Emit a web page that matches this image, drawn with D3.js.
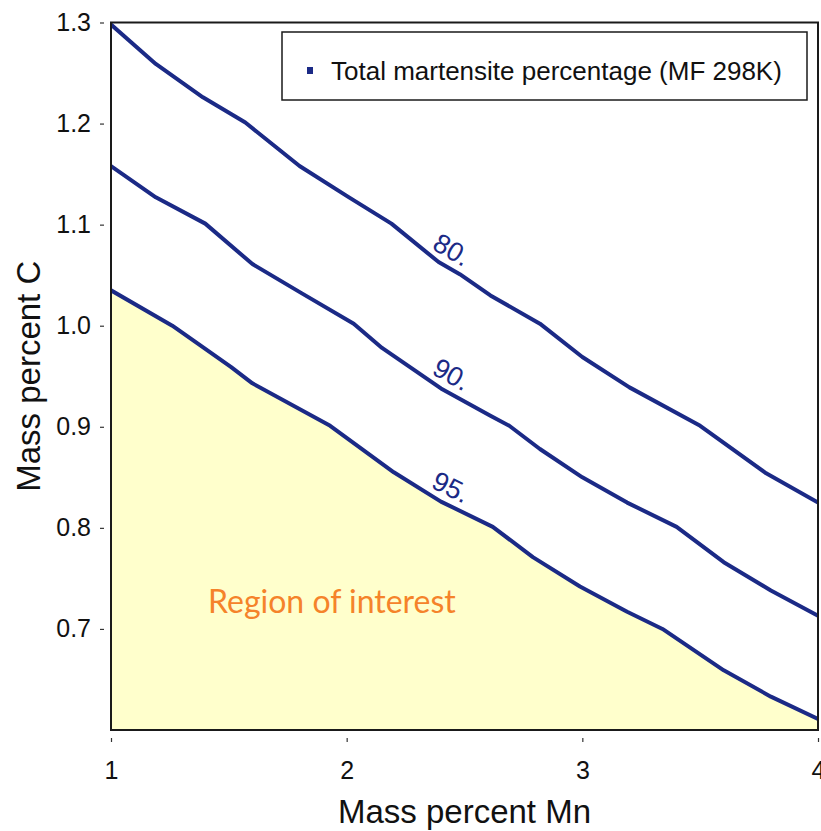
<!DOCTYPE html>
<html>
<head>
<meta charset="utf-8">
<script src="https://cdn.jsdelivr.net/npm/d3@7"></script>
<style>
  html, body { margin: 0; padding: 0; background: #ffffff; }
  svg { display: block; }
</style>
</head>
<body>
<svg id="chart" width="821" height="831"></svg>
<script>
// Contour lines of total martensite percentage over Mn / C composition
const contourLevels = ["80", "90", "95"];

const mn80 = [1.00, 1.19, 1.39, 1.57, 1.80, 2.01, 2.19, 2.39, 2.48, 2.61, 2.82, 3.00, 3.20, 3.50, 3.78, 4.00];
const c80  = [1.298, 1.259, 1.226, 1.201, 1.158, 1.127, 1.101, 1.063, 1.051, 1.030, 1.002, 0.969, 0.939, 0.901, 0.854, 0.825];

const mn90 = [1.00, 1.19, 1.40, 1.60, 1.81, 2.03, 2.15, 2.40, 2.61, 2.69, 2.82, 3.00, 3.19, 3.40, 3.60, 3.80, 4.00];
const c90  = [1.158, 1.127, 1.101, 1.061, 1.032, 1.002, 0.978, 0.938, 0.911, 0.901, 0.878, 0.850, 0.825, 0.801, 0.766, 0.738, 0.713];

const mn95 = [1.00, 1.26, 1.37, 1.51, 1.60, 1.93, 2.20, 2.40, 2.62, 2.79, 2.99, 3.19, 3.34, 3.60, 3.80, 4.00];
const c95  = [1.035, 1.000, 0.982, 0.959, 0.943, 0.901, 0.855, 0.826, 0.801, 0.771, 0.742, 0.717, 0.700, 0.659, 0.633, 0.611];

const xTicks = [1, 2, 3, 4];
const yTicks = [0.7, 0.8, 0.9, 1.0, 1.1, 1.2, 1.3];
const labelMn = 2.41;   // Mn position where level labels sit

const legendText = "Total martensite percentage (MF 298K)";
const regionText = "Region of interest";
const xTitle = "Mass percent Mn";
const yTitle = "Mass percent C";

const lineColor = "#1b2a86";
const regionFill = "#ffffcc";

const contours = [
  { level: contourLevels[0], pts: mn80.map((m, i) => [m, c80[i]]) },
  { level: contourLevels[1], pts: mn90.map((m, i) => [m, c90[i]]) },
  { level: contourLevels[2], pts: mn95.map((m, i) => [m, c95[i]]) }
];

const svg = d3.select("#chart");
const plot = { left: 111, top: 22.5, right: 818, bottom: 730 };

const x = d3.scaleLinear().domain([1, 4]).range([plot.left, plot.right]);
const y = d3.scaleLinear().domain([0.6, 1.3]).range([plot.bottom, plot.top]);

svg.append("defs").append("clipPath").attr("id", "plotClip")
  .append("rect")
  .attr("x", plot.left).attr("y", plot.top)
  .attr("width", plot.right - plot.left).attr("height", plot.bottom - plot.top);

const body = svg.append("g").attr("clip-path", "url(#plotClip)");

// Shaded region under the 95 % contour
const area = d3.area()
  .x(d => x(d[0]))
  .y0(y(0.6))
  .y1(d => y(d[1]));
body.append("path")
  .datum(contours[2].pts)
  .attr("d", area)
  .attr("fill", regionFill);

// Contour lines
const line = d3.line().x(d => x(d[0])).y(d => y(d[1]));
body.selectAll("path.contour")
  .data(contours)
  .join("path")
  .attr("class", "contour")
  .attr("d", d => line(d.pts))
  .attr("fill", "none")
  .attr("stroke", lineColor)
  .attr("stroke-width", 4)
  .attr("stroke-linejoin", "round");

// Level labels, aligned with the local slope of each contour
contours.forEach(c => {
  const pts = c.pts;
  let i = 0;
  while (i < pts.length - 2 && pts[i + 1][0] < labelMn) i++;
  const a = pts[i], b = pts[i + 1];
  const t = (labelMn - a[0]) / (b[0] - a[0]);
  const px = x(labelMn);
  const py = y(a[1] + t * (b[1] - a[1]));
  const ang = Math.atan2(y(b[1]) - y(a[1]), x(b[0]) - x(a[0]));
  const off = 8;
  const lx = px + Math.sin(ang) * off;
  const ly = py - Math.cos(ang) * off;
  svg.append("text")
    .attr("transform", `translate(${lx},${ly}) rotate(${ang * 180 / Math.PI})`)
    .attr("text-anchor", "middle")
    .attr("font-family", "'Liberation Sans', Arial, sans-serif")
    .attr("font-size", 27)
    .attr("fill", lineColor)
    .text(c.level + ".");
});

// Region annotation
svg.append("text")
  .attr("x", 208).attr("y", 613)
  .attr("font-family", "Lato, 'Open Sans', sans-serif")
  .attr("font-size", 32)
  .attr("fill", "#f5832a")
  .text(regionText);

// Plot frame
svg.append("rect")
  .attr("x", plot.left).attr("y", plot.top)
  .attr("width", plot.right - plot.left).attr("height", plot.bottom - plot.top)
  .attr("fill", "none")
  .attr("stroke", "#1a1a1a")
  .attr("stroke-width", 2);

// Axes (ticks detached slightly from the frame)
const xAxis = svg.append("g")
  .attr("transform", `translate(0,${plot.bottom + 8})`)
  .call(d3.axisBottom(x).tickValues(xTicks).tickFormat(d3.format("d")).tickSize(4).tickPadding(19));
const yAxis = svg.append("g")
  .attr("transform", `translate(${plot.left - 7},0)`)
  .call(d3.axisLeft(y).tickValues(yTicks).tickFormat(d3.format(".1f")).tickSize(4).tickPadding(9));

[xAxis, yAxis].forEach(g => {
  g.select(".domain").remove();
  g.selectAll(".tick line").attr("stroke", "#333").attr("stroke-width", 1.2);
  g.selectAll(".tick text")
    .attr("font-family", "'Liberation Sans', Arial, sans-serif")
    .attr("font-size", 25)
    .attr("fill", "#111");
});

// Axis titles
svg.append("text")
  .attr("x", (plot.left + plot.right) / 2).attr("y", 823)
  .attr("text-anchor", "middle")
  .attr("font-family", "'Liberation Sans', Arial, sans-serif")
  .attr("font-size", 33)
  .attr("fill", "#111")
  .text(xTitle);
svg.append("text")
  .attr("transform", `translate(40,${(plot.top + plot.bottom) / 2}) rotate(-90)`)
  .attr("text-anchor", "middle")
  .attr("font-family", "'Liberation Sans', Arial, sans-serif")
  .attr("font-size", 33)
  .attr("fill", "#111")
  .text(yTitle);

// Legend
const legend = svg.append("g");
legend.append("rect")
  .attr("x", 282).attr("y", 32)
  .attr("width", 525).attr("height", 68)
  .attr("fill", "#ffffff")
  .attr("stroke", "#1a1a1a")
  .attr("stroke-width", 1.5);
legend.append("rect")
  .attr("x", 307).attr("y", 67)
  .attr("width", 6).attr("height", 7)
  .attr("fill", lineColor);
legend.append("text")
  .attr("x", 331).attr("y", 80)
  .attr("font-family", "'Liberation Sans', Arial, sans-serif")
  .attr("font-size", 26)
  .attr("fill", "#111")
  .text(legendText);
</script>
</body>
</html>
